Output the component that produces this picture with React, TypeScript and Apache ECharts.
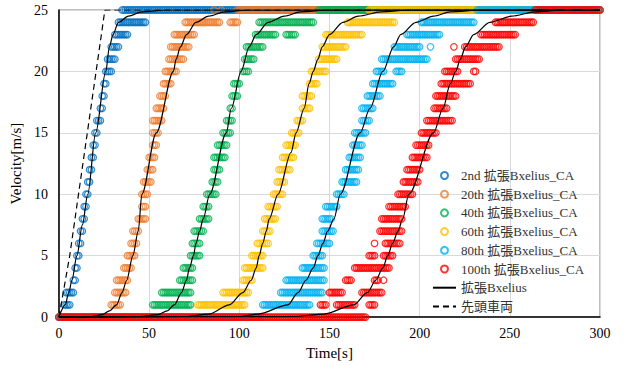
import React, { useEffect, useRef } from "react";
import * as echarts from "echarts";

type Seg = [number, number];
type Pt = [number, number];

// Legend names and colours
const scatterNames = [
  "2nd 拡張Bxelius_CA",
  "20th 拡張Bxelius_CA",
  "40th 拡張Bxelius_CA",
  "60th 拡張Bxelius_CA",
  "80th 拡張Bxelius_CA",
  "100th 拡張Bxelius_CA",
];
const scatterColors = ["#0070C0", "#ED7D31", "#00B050", "#FFC000", "#00B0F0", "#FF0000"];
const modelName = "拡張Bxelius";
const leaderName = "先頭車両";

// Observed time spans [start, end] (s) at each velocity level 0..25 m/s (index = velocity)
const run2nd: Seg[][] = [
  [[0, 2]], [[3, 6]], [[4, 8]], [[8, 9]], [[9, 10]], [[10, 11]], [[11, 12]], [[12, 13]],
  [[13, 14]], [[14, 15]], [[15, 16]], [[16, 17]], [[17, 18]], [[18, 19]], [[19, 20]],
  [[20, 21]], [[21, 23]], [[23, 24]], [[24, 25]], [[25, 26]], [[26, 29]], [[27, 31]],
  [[29, 33]], [[31, 38]], [[33, 48]], [[35, 300]],
];
const run20th: Seg[][] = [
  [[0, 28]], [[29, 34]], [[31, 37]], [[32, 38]], [[36, 40]], [[38, 42]], [[40, 43]], [[41, 44]],
  [[44, 48]], [[46, 48]], [[46, 49]], [[47, 51]], [[49, 52]], [[50, 53]], [[52, 54]],
  [[52, 55]], [[52, 57]], [[54, 58]], [[56, 59]], [[58, 62]], [[59, 65]], [[61, 69]],
  [[62, 72]], [[64, 75]], [[70, 89], [95, 99]], [[86, 86], [90, 90], [99, 300]],
];
const run40th: Seg[][] = [
  [[0, 51]], [[52, 73]], [[57, 73]], [[67, 74]], [[69, 74]], [[73, 78]], [[74, 78]], [[75, 80]],
  [[78, 83]], [[80, 83]], [[82, 87]], [[85, 88]], [[86, 89]], [[86, 92]], [[88, 93]],
  [[91, 95]], [[93, 96]], [[95, 96]], [[96, 99]], [[97, 100]], [[102, 105]], [[103, 108]],
  [[104, 113]], [[109, 120], [126, 131]], [[111, 141]], [[144, 300]],
];
const run60th: Seg[][] = [
  [[0, 76]], [[77, 103]], [[91, 105]], [[102, 107]], [[103, 113]], [[107, 113]], [[110, 116]], [[113, 117]],
  [[114, 120]], [[116, 121]], [[119, 124]], [[121, 125]], [[122, 128]], [[124, 130]], [[126, 131]],
  [[129, 133]], [[132, 135]], [[135, 139]], [[135, 140]], [[139, 143]], [[140, 148]], [[144, 154]],
  [[146, 159]], [[148, 168]], [[160, 186]], [[172, 300]],
];
const run80th: Seg[][] = [
  [[0, 112]], [[113, 139]], [[123, 146]], [[126, 147]], [[135, 147]], [[141, 146]], [[143, 150]], [[146, 152]],
  [[146, 151]], [[148, 154]], [[154, 158]], [[157, 165]], [[159, 166]], [[161, 167]], [[163, 168]],
  [[164, 170]], [[168, 172]], [[168, 174]], [[171, 178]], [[174, 185]], [[176, 180], [187, 190]],
  [[179, 204]], [[186, 200], [206, 206]], [[193, 211]], [[201, 230]], [[232, 300]],
];
const run100th: Seg[][] = [
  [[0, 170]], [[145, 148], [154, 164], [172, 175]], [[150, 157], [168, 179]],
  [[159, 162], [175, 177], [180, 180]], [[164, 183]], [[172, 175], [180, 185]],
  [[175, 175], [181, 189]], [[178, 190]], [[179, 190]], [[183, 192]], [[188, 196]],
  [[191, 199]], [[193, 200]], [[196, 204]], [[198, 205]], [[201, 209]], [[204, 218]],
  [[208, 215]], [[209, 220]], [[212, 228]], [[214, 221], [230, 231]], [[220, 233]],
  [[219, 219], [225, 244]], [[234, 253]], [[242, 263]], [[264, 300]],
];
const scatterRuns = [run2nd, run20th, run40th, run60th, run80th, run100th];

// Model curves (拡張Bxelius), [time s, velocity m/s]
const curve2nd: Pt[] = [
  [0, 0], [3.5, 1], [5.5, 2], [7.2, 3], [10, 5], [13, 7.5], [16, 10], [20.4, 15], [26, 20],
  [28, 22], [30, 23], [33, 24], [38.6, 24.5], [46, 24.85], [60, 25], [300, 25],
];
const curve20th: Pt[] = [
  [0, 0], [18, 0.05], [24, 0.2], [28, 0.5], [32, 1], [35, 2], [37.6, 3], [41, 5], [44, 7],
  [46, 10], [54, 15], [63.5, 20], [65, 21], [67.4, 22], [70.7, 23], [76, 24], [83, 24.5],
  [92, 24.85], [105, 25], [300, 25],
];
const curve40th: Pt[] = [
  [0, 0], [45, 0.05], [55, 0.2], [60, 0.5], [64, 1], [68, 2], [70.7, 3], [72.4, 4], [74.6, 5],
  [76, 6], [78, 7], [80, 8], [83.6, 10], [92.8, 15], [95.6, 17], [101, 20], [105.5, 22],
  [109.4, 23], [116, 24], [125, 24.5], [134, 24.85], [150, 25], [300, 25],
];
const curve60th: Pt[] = [
  [0, 0], [70, 0.05], [83, 0.25], [94.5, 1], [102, 2], [106.6, 3], [109.4, 4], [111, 5],
  [113, 6], [115, 7], [116.6, 8], [121.5, 10], [128.7, 13.4], [131.5, 15], [136, 17],
  [138.7, 19], [141, 20], [143.6, 21], [146, 22], [150, 23], [157.5, 24], [166, 24.5],
  [178.5, 24.85], [195, 25], [300, 25],
];
const curve80th: Pt[] = [
  [0, 0], [100, 0.05], [110.5, 0.25], [127, 1], [132.6, 2], [137, 3], [141, 4], [143.6, 5],
  [146.4, 6], [149, 7], [152.5, 8], [156, 10], [167, 15], [172.5, 17], [179.6, 20],
  [185.6, 22], [189.5, 23], [198, 24], [207.7, 24.5], [217, 24.85], [235, 25], [300, 25],
];
const curve100th: Pt[] = [
  [0, 0], [130, 0.05], [147, 0.25], [163.5, 1], [171, 2], [175.7, 3], [179.6, 4], [182.3, 5],
  [185, 6], [188, 7], [190.6, 8], [194, 10], [207.7, 15], [213, 17], [217, 19], [220, 20],
  [222.6, 21], [225.4, 22], [230, 23], [239, 24], [251, 24.5], [264, 24.85], [280, 25], [300, 25],
];
const modelCurves = [curve2nd, curve20th, curve40th, curve60th, curve80th, curve100th];

// Leader vehicle (先頭車両)
const leaderCurve: Pt[] = [[0, 0], [6, 5], [25.5, 25], [300, 25]];

// Axis ticks
const xTicks = { min: 0, max: 300, interval: 50 };
const yTicks = { min: 0, max: 25, interval: 5 };

function expandRuns(levels: Seg[][]): Pt[] {
  const pts: Pt[] = [];
  levels.forEach((segs, v) => {
    segs.forEach(([a, b]) => {
      for (let t = a; t <= b; t += 1) pts.push([t, v]);
    });
  });
  return pts;
}

const FONT = "'Liberation Serif', 'Noto Sans CJK JP', serif";

export default function App() {
  const ref = useRef<HTMLDivElement>(null);
  useEffect(() => {
    if (!ref.current) return;
    const chart = echarts.init(ref.current, undefined, { renderer: "svg" });
    const series: any[] = [];
    scatterRuns.forEach((run, i) => {
      series.push({
        type: "scatter",
        name: scatterNames[i],
        data: expandRuns(run),
        symbol: "circle",
        symbolSize: 6.5,
        itemStyle: { color: "rgba(255,255,255,0)", borderColor: scatterColors[i], borderWidth: 1.25 },
        z: 2,
      });
    });
    modelCurves.forEach((c) => {
      series.push({
        type: "line",
        name: modelName,
        data: c,
        symbol: "none",
        smooth: 0.3,
        smoothMonotone: "x",
        lineStyle: { color: "#000", width: 1.2 },
        itemStyle: { color: "#000" },
        z: 3,
      });
    });
    series.push({
      type: "line",
      name: leaderName,
      data: leaderCurve,
      symbol: "none",
      lineStyle: { color: "#000", width: 1.2, type: [6, 4] },
      itemStyle: { color: "#000" },
      z: 3,
    });
    const hiddenMarker = { color: "rgba(0,0,0,0)", borderWidth: 0, opacity: 0 };
    chart.setOption({
      animation: false,
      textStyle: { fontFamily: FONT },
      grid: {
        left: 57, right: 24, top: 10, bottom: 47,
        show: true, borderColor: "#7f7f7f", borderWidth: 1,
      },
      legend: {
        orient: "vertical",
        left: 432,
        top: 168,
        padding: 0,
        itemWidth: 23,
        itemHeight: 7,
        itemGap: 3.7,
        textStyle: { fontFamily: FONT, fontSize: 13, lineHeight: 15, color: "#333" },
        data: [
          ...scatterNames,
          { name: modelName, itemStyle: hiddenMarker },
          { name: leaderName, itemStyle: hiddenMarker },
        ],
      },
      xAxis: {
        type: "value",
        ...xTicks,
        name: "Time[s]",
        nameLocation: "middle",
        nameGap: 26,
        nameTextStyle: { fontFamily: FONT, fontSize: 15, color: "#000" },
        axisLine: { lineStyle: { color: "#000", width: 1.5 } },
        axisTick: { show: false },
        axisLabel: { fontFamily: FONT, fontSize: 14, color: "#000", margin: 9 },
        splitLine: { lineStyle: { color: "#d9d9d9", width: 1 } },
      },
      yAxis: {
        type: "value",
        ...yTicks,
        name: "Velocity[m/s]",
        nameLocation: "middle",
        nameGap: 27,
        nameTextStyle: { fontFamily: FONT, fontSize: 15, color: "#000" },
        axisLine: { show: true, lineStyle: { color: "#000", width: 1.5 } },
        axisTick: { show: false },
        axisLabel: { fontFamily: FONT, fontSize: 14, color: "#000", margin: 11 },
        splitLine: { lineStyle: { color: "#d9d9d9", width: 1 } },
      },
      series,
    });
    return () => chart.dispose();
  }, []);
  return (
    <div
      ref={ref}
      style={{ position: "fixed", left: 0, top: 0, width: 624, height: 365, background: "#fff" }}
    />
  );
}
